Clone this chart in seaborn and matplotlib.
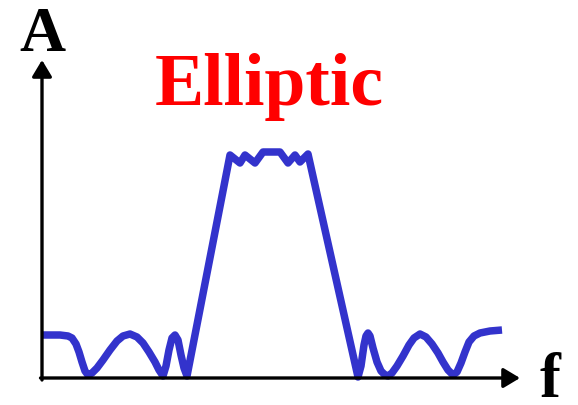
import matplotlib
matplotlib.use("Agg")
import matplotlib.pyplot as plt
import seaborn as sns
import pandas as pd

sns.set_theme(style="white")
plt.rcParams['font.family'] = ['Liberation Serif', 'DejaVu Serif']

# Elliptic filter magnitude response (arbitrary units)
freq = [1, 18, 26, 30, 34, 37, 40, 43, 46,
        50, 55, 61, 68, 75, 81, 88, 95, 101, 107, 113, 117, 121,
        124, 127, 130, 133, 136, 139, 142, 145,
        188, 198, 203, 213, 221, 238, 246, 253, 258, 266,
        316, 319, 322, 324, 326, 328, 331, 335, 339, 343, 346,
        350, 355, 361, 367, 372, 378, 384, 390, 396, 401, 406, 411,
        415, 419, 423, 427, 432, 438, 448, 460]
amp = [43, 43, 42, 40, 34, 26, 16, 7, 3,
       5, 10, 18, 28, 37, 42, 44, 41, 35, 26, 16, 8, 2,
       12, 28, 40, 43, 38, 23, 10, 2,
       223, 215, 223, 215, 226, 226, 215, 223, 216, 224,
       1, 12, 33, 42, 45, 42, 30, 16, 7, 3, 2,
       5, 12, 22, 33, 40, 44, 41, 34, 25, 16, 8, 3,
       6, 15, 26, 36, 42, 45, 47, 48]

title = "Elliptic"
y_label = "A"
x_label = "f"

df = pd.DataFrame({"f": freq, "A": amp})

fig = plt.figure(figsize=(5.78, 4.05), dpi=100)
ax = fig.add_axes([0, 0, 1, 1])
ax.set_xlim(-42, 536)
ax.set_ylim(-27, 378)
ax.axis("off")

sns.lineplot(data=df, x="f", y="A", sort=False, estimator=None, ax=ax,
             color="#3333cc", linewidth=5.4)
for l in ax.get_lines():
    l.set_solid_joinstyle("round")
    l.set_solid_capstyle("butt")

# axes with arrows
arrow_style = "-|>,head_length=10,head_width=6"
ax.annotate("", xy=(0, 318), xytext=(0, -2),
            arrowprops=dict(arrowstyle=arrow_style, mutation_scale=1, color="black",
                            lw=2.4, shrinkA=0, shrinkB=0))
ax.annotate("", xy=(478, 0), xytext=(-1.5, 0),
            arrowprops=dict(arrowstyle=arrow_style, mutation_scale=1, color="black",
                            lw=2.4, shrinkA=0, shrinkB=0))

ax.text(0, 327, y_label, ha="center", va="baseline",
        fontsize=46, fontweight="bold", color="black")
ax.text(498, -19, x_label, ha="left", va="baseline",
        fontsize=45, fontweight="bold", color="black")
ax.text(113, 273, title, ha="left", va="baseline",
        fontsize=53, fontweight="bold", color="#ff0000")

fig.savefig("out.png", dpi=100)
